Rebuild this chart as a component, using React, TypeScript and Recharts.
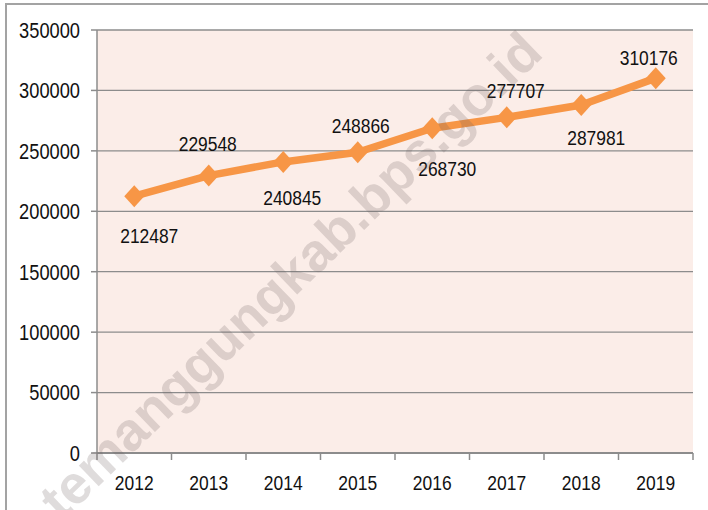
import React from 'react';
import { ComposedChart, Line, XAxis, YAxis, CartesianGrid, LabelList } from 'recharts';

const years = ['2012', '2013', '2014', '2015', '2016', '2017', '2018', '2019'];
const values = [212487, 229548, 240845, 248866, 268730, 277707, 287981, 310176];
const yTicks = [0, 50000, 100000, 150000, 200000, 250000, 300000, 350000];
// label placement relative to each point: [dx, dy] of the text centre
const labelOffsets = [
  [15, 39], [-1, -32], [9, 36], [3, -27], [15, 40], [9, -27], [15, 33], [-7, -21],
];

const data = years.map((y, i) => ({ year: y, value: values[i] }));

const W = 708;
const H = 510;
const MARGIN = { top: 30, right: 15, bottom: 0, left: 0 };
const Y_AXIS_W = 97;
const X_AXIS_H = 57;
const PLOT_W = W - MARGIN.left - MARGIN.right - Y_AXIS_W;
const BW = PLOT_W / years.length;
const FONT = "'Liberation Sans', Arial, sans-serif";
const SX = 0.83;
const ORANGE = '#F79646';
const AXIS = '#8c8c8c';

const NarrowText = ({ x, y, size, anchor, children }: any) => (
  <text
    transform={`translate(${x},${y}) scale(${SX},1)`}
    x={0}
    y={0}
    textAnchor={anchor}
    fontFamily={FONT}
    fontSize={size}
    fill="#111"
  >
    {children}
  </text>
);

const XTick = (props: any) => {
  const { x, y, payload, index } = props;
  const last = index === years.length - 1;
  return (
    <g>
      <line x1={x - BW / 2} x2={x - BW / 2} y1={y} y2={y + 7} stroke={AXIS} strokeWidth={1.5} />
      {last && <line x1={x + BW / 2} x2={x + BW / 2} y1={y} y2={y + 7} stroke={AXIS} strokeWidth={1.5} />}
      <NarrowText x={x} y={y + 36.5} size={21} anchor="middle">
        {payload.value}
      </NarrowText>
    </g>
  );
};

const YTick = (props: any) => {
  const { x, y, payload } = props;
  return (
    <NarrowText x={x} y={y + 7.8} size={22} anchor="end">
      {String(payload.value)}
    </NarrowText>
  );
};

const Diamond = (props: any) => {
  const { cx, cy, index } = props;
  if (cx == null || cy == null) return <g key={index} />;
  const hw = 10;
  const hh = 11;
  return (
    <polygon
      key={index}
      points={`${cx},${cy - hh} ${cx + hw},${cy} ${cx},${cy + hh} ${cx - hw},${cy}`}
      fill={ORANGE}
    />
  );
};

const renderLabel = (props: any) => {
  const { x, y, value, index } = props;
  const off = labelOffsets[index] || [0, -20];
  return (
    <NarrowText key={index} x={x + off[0]} y={y + off[1] + 7.5} size={21} anchor="middle">
      {String(value)}
    </NarrowText>
  );
};

export default function App() {
  return (
    <div
      style={{
        position: 'absolute',
        left: 0,
        top: 0,
        width: W,
        height: H,
        overflow: 'hidden',
        background: '#fff',
      }}
    >
      <div style={{ position: 'absolute', left: 5, top: 3, width: W, height: 2, background: '#a3a3a3' }} />
      <div style={{ position: 'absolute', left: 5, top: 3, width: 2, height: H, background: '#a3a3a3' }} />
      <div style={{ position: 'absolute', left: 0, top: 0 }}>
        <ComposedChart width={W} height={H} data={data} margin={MARGIN}>
          <CartesianGrid vertical={false} stroke={AXIS} strokeWidth={1.3} fill="#FBEDE8" />
          <XAxis
            dataKey="year"
            height={X_AXIS_H}
            padding={{ left: BW / 2, right: BW / 2 }}
            axisLine={{ stroke: AXIS, strokeWidth: 2 }}
            tickLine={false}
            tickSize={0}
            tickMargin={0}
            tick={<XTick />}
            interval={0}
          />
          <YAxis
            width={Y_AXIS_W}
            domain={[0, 350000]}
            ticks={yTicks}
            interval={0}
            axisLine={{ stroke: AXIS, strokeWidth: 1.5 }}
            tickLine={{ stroke: AXIS, strokeWidth: 1.5 }}
            tickSize={6}
            tickMargin={11}
            tick={<YTick />}
          />
          <Line
            type="linear"
            dataKey="value"
            stroke={ORANGE}
            strokeWidth={7.5}
            strokeLinejoin="round"
            dot={Diamond}
            activeDot={false}
            isAnimationActive={false}
          >
            <LabelList dataKey="value" content={renderLabel} />
          </Line>
        </ComposedChart>
      </div>
      <svg
        width={W}
        height={H}
        style={{ position: 'absolute', left: 0, top: 0, pointerEvents: 'none' }}
      >
        <text
          x={290}
          y={275}
          transform="rotate(-44 290 275)"
          textAnchor="middle"
          dominantBaseline="central"
          fontFamily="'Liberation Sans', Arial, sans-serif"
          fontWeight="bold"
          fontSize={54}
          fill="rgba(110,95,95,0.22)"
        >
          temanggungkab.bps.go.id
        </text>
      </svg>
    </div>
  );
}
